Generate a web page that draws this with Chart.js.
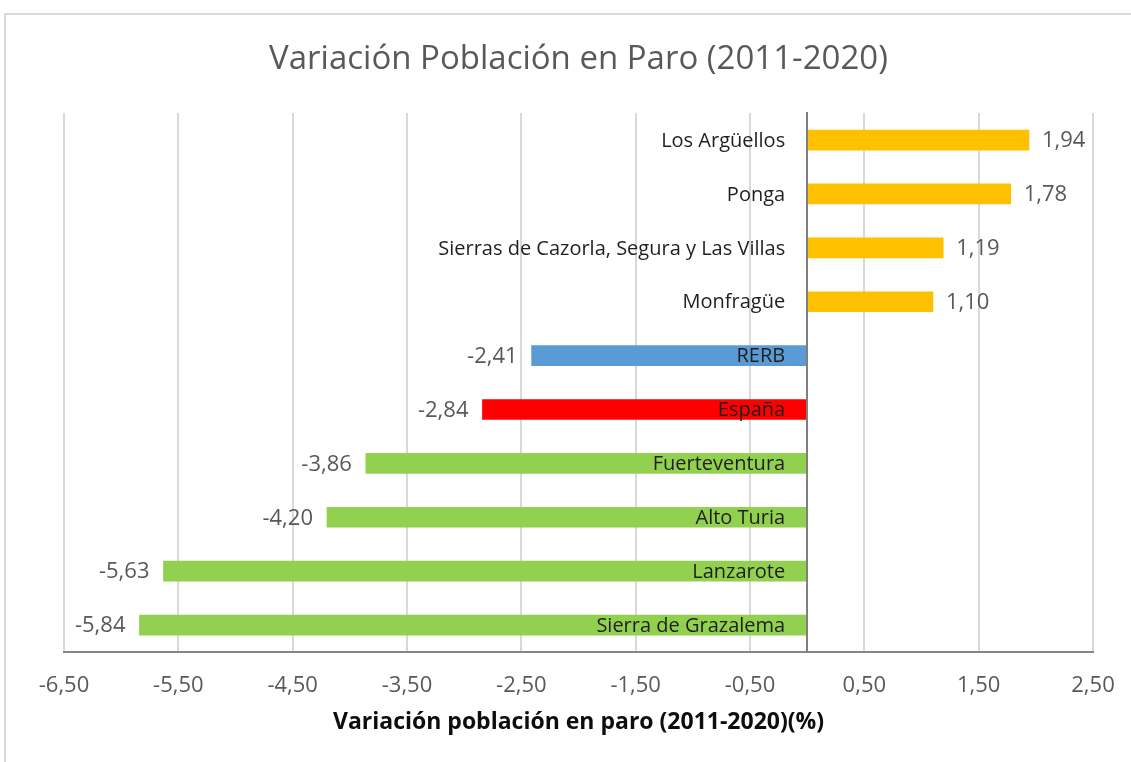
<!DOCTYPE html>
<html>
<head>
<meta charset="utf-8">
<script src="https://cdn.jsdelivr.net/npm/chart.js@4.4.1/dist/chart.umd.min.js"></script>
<style>
  html, body { margin: 0; padding: 0; background: #ffffff; }
  #wrap { position: relative; width: 1131px; height: 762px; overflow: hidden; }
  #wrap canvas { position: absolute; left: 0; top: 0; }
  #frame { position: absolute; left: 4px; top: 13px; width: 1300px; height: 900px;
           border: 2px solid #d9d9d9; box-sizing: border-box; pointer-events: none; }
</style>
</head>
<body>
<div id="wrap">
  <canvas id="chart" width="1131" height="762"></canvas>
  <div id="frame"></div>
</div>
<script>
// Territories, top to bottom
const categories = [
  'Los Argüellos',
  'Ponga',
  'Sierras de Cazorla, Segura y Las Villas',
  'Monfragüe',
  'RERB',
  'España',
  'Fuerteventura',
  'Alto Turia',
  'Lanzarote',
  'Sierra de Grazalema'
];

// Change in unemployed population 2011-2020 (%)
const variation = [1.94, 1.78, 1.19, 1.10, -2.41, -2.84, -3.86, -4.20, -5.63, -5.84];

// One colour per territory group
const barColors = [
  '#FFC000', '#FFC000', '#FFC000', '#FFC000',
  '#5B9BD5',
  '#FF0000',
  '#92D050', '#92D050', '#92D050', '#92D050'
];

// Horizontal axis tick values
const xTicks = [-6.5, -5.5, -4.5, -3.5, -2.5, -1.5, -0.5, 0.5, 1.5, 2.5];

const FONT = '"Open Sans"';
const fmt = v => Number(v).toFixed(2).replace('.', ',');

// Category names sit just left of the zero line (over the bar when it is negative),
// and each value is written just past the end of its bar
const barLabels = {
  id: 'barLabels',
  afterDatasetsDraw(chart) {
    const ctx = chart.ctx;
    const xs = chart.scales.x;
    const ys = chart.scales.y;
    const zero = xs.getPixelForValue(0);
    const meta = chart.getDatasetMeta(0);
    ctx.save();
    ctx.textBaseline = 'middle';

    ctx.font = '20px ' + FONT;
    ctx.fillStyle = '#1f1f1f';
    ctx.textAlign = 'right';
    categories.forEach((name, i) => {
      ctx.fillText(name, zero - 22, ys.getPixelForValue(i) + 1);
    });

    ctx.font = '22px ' + FONT;
    ctx.fillStyle = '#595959';
    meta.data.forEach((bar, i) => {
      const v = variation[i];
      if (v >= 0) {
        ctx.textAlign = 'left';
        ctx.fillText(fmt(v), bar.x + 13, bar.y + 1);
      } else {
        ctx.textAlign = 'right';
        ctx.fillText(fmt(v), bar.x - 14, bar.y + 1);
      }
    });
    ctx.restore();
  }
};

new Chart(document.getElementById('chart'), {
  type: 'bar',
  data: {
    labels: categories,
    datasets: [{
      data: variation,
      backgroundColor: barColors,
      borderWidth: 0,
      barThickness: 20
    }]
  },
  options: {
    indexAxis: 'y',
    responsive: false,
    animation: false,
    layout: { padding: { left: 64, right: 38, top: 20, bottom: 22 } },
    plugins: {
      legend: { display: false },
      tooltip: { enabled: false },
      title: {
        display: true,
        text: 'Variación Población en Paro (2011-2020)',
        color: '#595959',
        font: { family: FONT, size: 33, weight: 'normal' },
        padding: { top: 20, bottom: 33.5 }
      }
    },
    scales: {
      x: {
        type: 'linear',
        min: -6.5,
        max: 2.5,
        afterBuildTicks: scale => { scale.ticks = xTicks.map(v => ({ value: v })); },
        // the outer labels fit inside the layout padding already
        afterFit: scale => { scale.paddingLeft = 0; scale.paddingRight = 0; },
        grid: { color: '#d9d9d9', lineWidth: 2, drawTicks: false },
        border: { color: '#868686', width: 2 },
        ticks: {
          color: '#595959',
          font: { family: FONT, size: 22 },
          padding: 21,
          autoSkip: false,
          maxRotation: 0,
          callback: v => fmt(v)
        },
        title: {
          display: true,
          text: 'Variación población en paro (2011-2020)(%)',
          color: '#0d0d0d',
          font: { family: FONT, size: 23, weight: 'bold' },
          padding: { top: -12, bottom: 4 }
        }
      },
      y: {
        position: { x: 0 },
        grid: { display: false, drawTicks: false },
        border: { display: true, color: '#7f7f7f', width: 2, z: 1 },
        ticks: { display: false }
      }
    }
  },
  plugins: [barLabels]
});
</script>
</body>
</html>
